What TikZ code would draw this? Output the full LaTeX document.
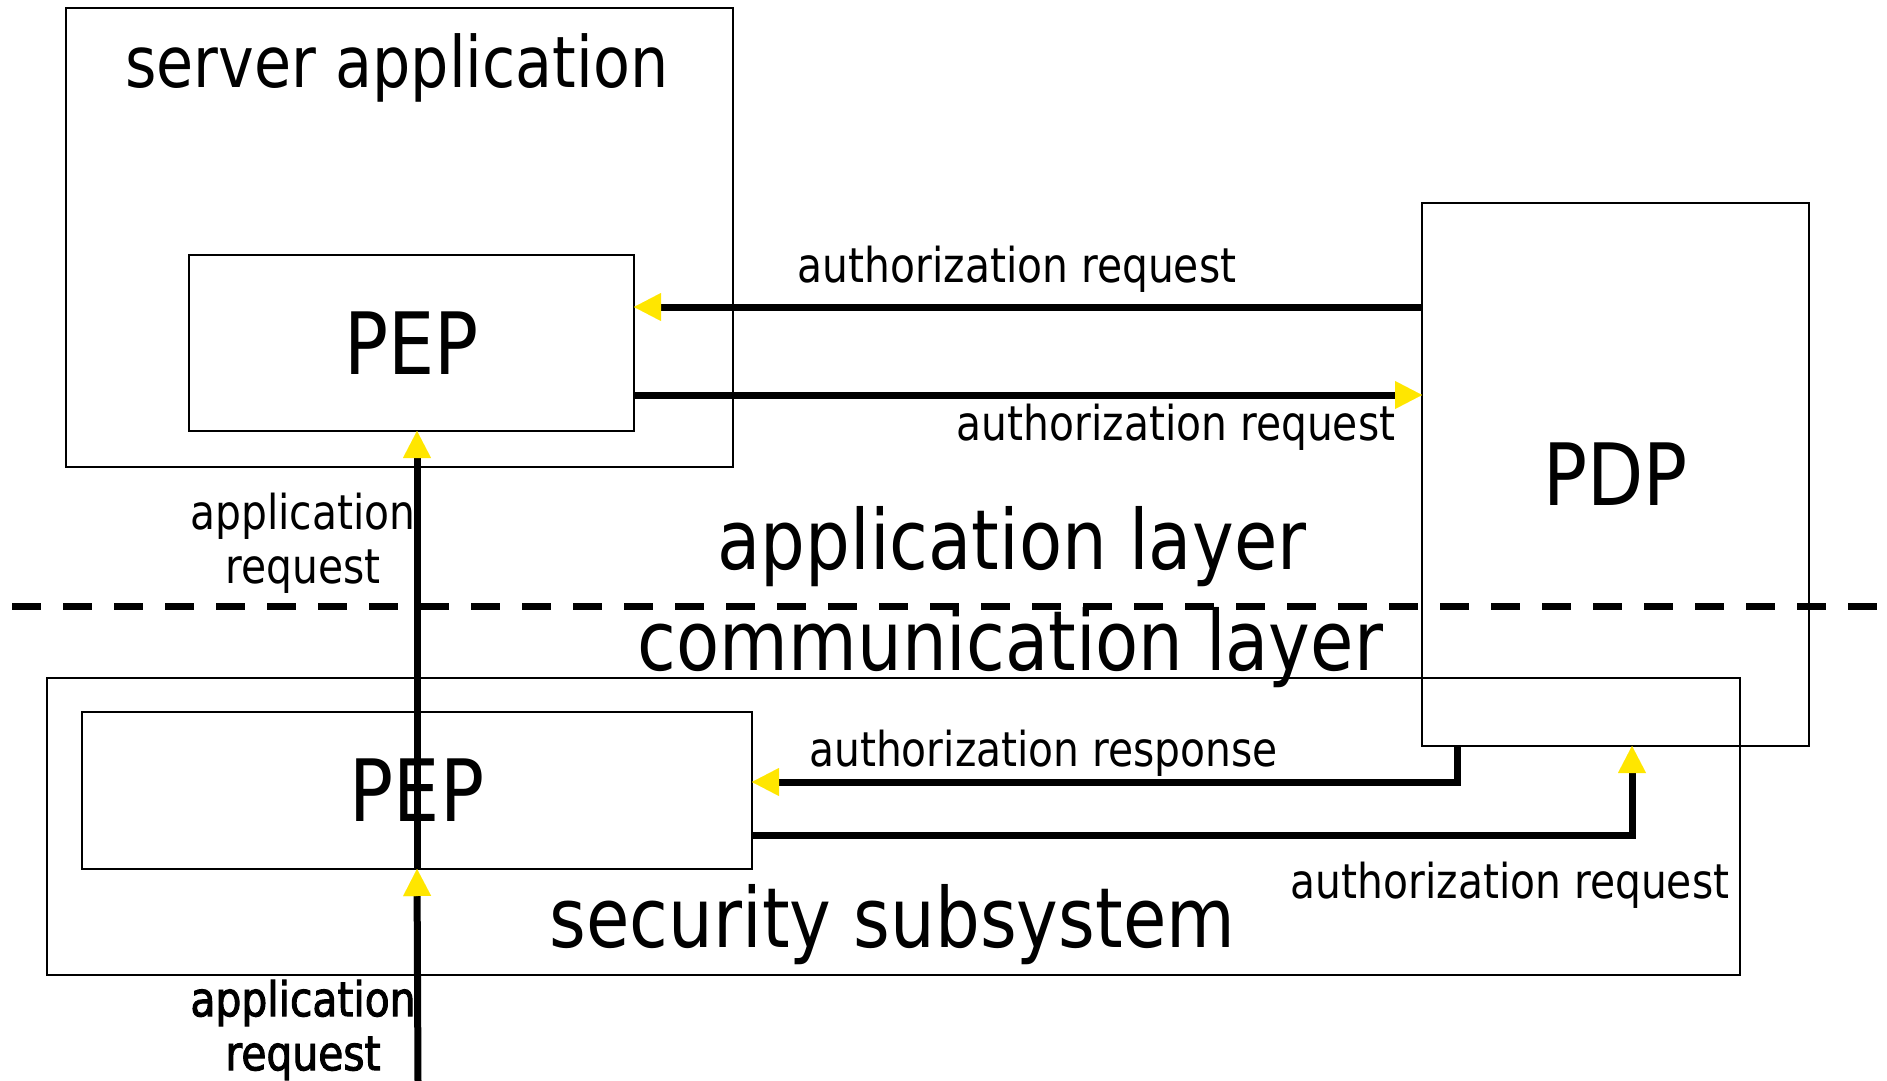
\documentclass[tikz,border=0pt]{standalone}
\usepackage{fontspec}
\setmainfont{DejaVu Sans}[FakeStretch=0.85]
\newfontfamily\boldlab{DejaVu Sans}[FakeStretch=0.85,FakeBold=2]
\usetikzlibrary{arrows.meta}
\definecolor{ylw}{RGB}{255,230,0}
\begin{document}
\begin{tikzpicture}[x=0.5pt,y=-0.5pt,
  box/.style={draw=black,line width=1pt,inner sep=0pt,outer sep=0pt},
  arr/.style={line width=3.5pt,-{Triangle[length=13.5pt,width=14pt,color=ylw,line width=0.01pt]}},
  small/.style={font=\fontsize{24}{27}\selectfont,inner sep=0pt},
  title/.style={font=\fontsize{35.5}{40}\selectfont,inner sep=0pt},
  layer/.style={font=\fontsize{41.5}{46}\selectfont,inner sep=0pt},
  big/.style={font=\fontsize{43}{48}\selectfont},
  sep/.style={line width=3.5pt,dash pattern=on 14.5pt off 11pt}]
\useasboundingbox (0,0) rectangle (1887,1081);
% boxes
\node[box,minimum width=333.5pt,minimum height=229.5pt] (srv) at (399.5,237.5) {};
\node[box,big,minimum width=222.5pt,minimum height=88pt] (pep1) at (411.5,343) {PEP};
\node[box,minimum width=846.5pt,minimum height=148.5pt] (sec) at (893.5,826.5) {};
\node[box,big,minimum width=193.5pt,minimum height=271.5pt] (pdp) at (1615.5,474.5) {PDP};
\node[box,big,minimum width=335pt,minimum height=78.5pt] (pep2) at (417,790.5) {PEP};
% texts
\node[title,anchor=base] (tsrv) at (397,88) {server application};
\node[layer,anchor=base] (tapp) at (1012,569) {application layer};
\node[layer,anchor=base] (tcom) at (1010.5,670) {communication layer};
\node[layer,anchor=base] (tsec) at (892.5,947) {security subsystem};
\node[small,anchor=base] (lreq1) at (1017,282) {authorization request};
\node[small,anchor=base] (lreq2) at (1176,440) {authorization request};
\node[small,anchor=base] (lresp) at (1043.5,766) {authorization response};
\node[small,anchor=base] (lreq3) at (1510,898) {authorization request};
\node[small,align=center] (lapp1) at (303,543) {application\\request};
\node[small,align=center,font=\fontsize{24}{27}\boldlab] (lapp2) at (303,1030) {application\\request};
% separator
\coordinate (dl) at (12,606);
\coordinate (dr) at (1880,606);
\draw[sep] (dl) -- (dr);
% connectors
\coordinate (src) at (418,1081);
\draw[arr] (pdp.west |- 0,307) -- (pep1.east |- 0,307);
\draw[arr] (pep1.east |- 0,395) -- (pdp.west |- 0,395);
\draw[arr] (pep2.south) -- (pep2.south |- pep1.south);
\draw[arr] (src) -- (pep2.south);
\draw[arr] ([xshift=17.5pt]pdp.south west) |- (pep2.east |- 0,782);
\draw[arr] (pep2.east |- 0,835) -| ([xshift=105pt]pdp.south west);
\end{tikzpicture}
\end{document}
